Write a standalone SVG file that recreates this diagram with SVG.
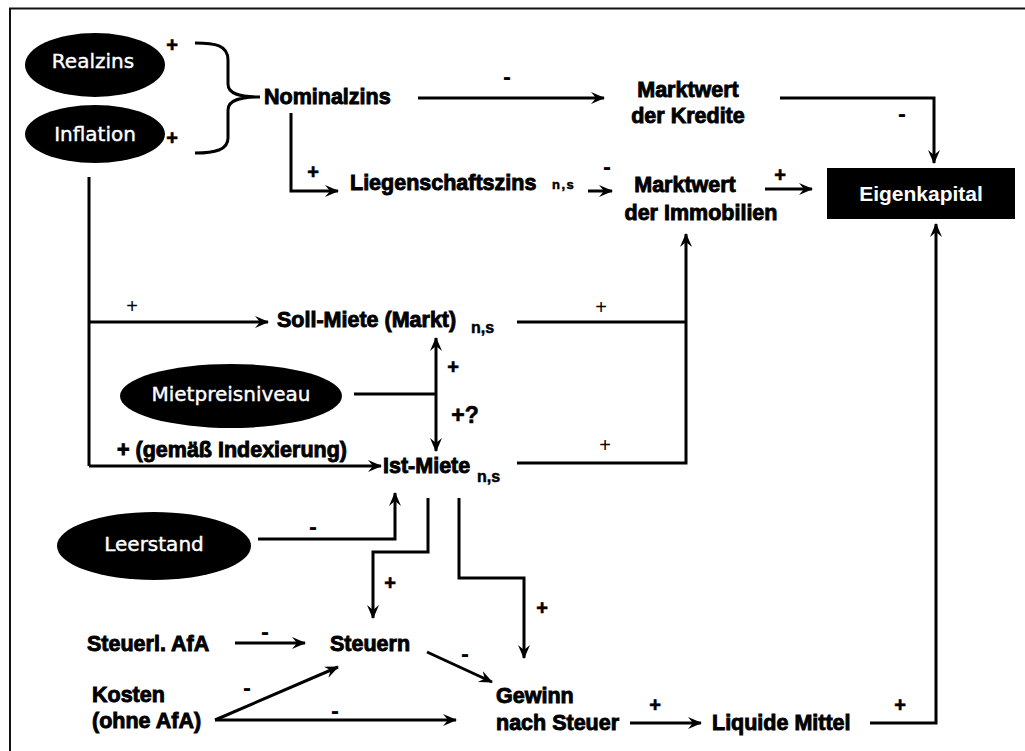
<svg xmlns="http://www.w3.org/2000/svg" width="1025" height="751" viewBox="0 0 1025 751">
<defs>
<marker id="ah" markerUnits="userSpaceOnUse" markerWidth="16" markerHeight="14" viewBox="0 0 16 14" refX="13" refY="7" orient="auto">
<path d="M0,1 L14,7 L0,13 L5,7 z" fill="#000"/>
</marker>
<style>
.b{font-family:"Liberation Sans",Arial,sans-serif;font-weight:bold;font-size:21.5px;fill:#000;stroke:#000;stroke-width:0.9px}
.sub{font-family:"Liberation Sans",Arial,sans-serif;font-weight:bold;font-size:16px;fill:#000;stroke:#000;stroke-width:0.5px}
.e{font-family:"DejaVu Sans",Verdana,sans-serif;font-size:20px;fill:#fff;stroke:#fff;stroke-width:0.4px;text-anchor:middle}
.lb{font-family:"Liberation Sans",Arial,sans-serif;font-weight:bold;font-size:20px;fill:#000;stroke:#000;stroke-width:0.6px;text-anchor:middle}
.lm{font-family:"Liberation Sans",Arial,sans-serif;font-weight:bold;font-size:24px;fill:#000;text-anchor:middle}
.lt{font-family:"Liberation Sans",Arial,sans-serif;font-size:20px;fill:#000;text-anchor:middle}
.c{fill:none;stroke:#000;stroke-width:3}
.a{marker-end:url(#ah)}
</style>
</defs>
<rect width="1025" height="751" fill="#fff"/>
<path d="M10,751 V8.5 H1025" fill="none" stroke="#111" stroke-width="2"/>

<g id="connectors">
<path class="c" d="M195,43 C215,43 228,45 228,60 L228,84 C228,94 240,97 260,97 C240,97 228,100 228,110 L228,138 C228,150 215,153 195,153"/>
<path class="c a" d="M418,98 H604"/>
<path class="c a" d="M780,98 H934 V163"/>
<path class="c a" d="M291,113 V191 H338"/>
<path class="c a" d="M588,191 H612"/>
<path class="c a" d="M765,189 H812"/>
<path class="c" d="M89,177 V466"/>
<path class="c a" d="M89,322 H268"/>
<path class="c a" d="M89,466 H381"/>
<path class="c a" d="M517,322 H686 V463 H517 M686,322 V234"/>
<path class="c" d="M354,394 H436"/>
<path class="c a" d="M436,394 V338"/>
<path class="c a" d="M436,394 V451"/>
<path class="c a" d="M258,539 H395 V493"/>
<path class="c a" d="M428,498 V552 H373 V618"/>
<path class="c a" d="M459,498 V578 H524 V658"/>
<path class="c a" d="M235,643 H305"/>
<path class="c a" d="M427,652 L492,682"/>
<path class="c a" d="M215,720 L338,667"/>
<path class="c a" d="M215,720 H456"/>
<path class="c a" d="M630,723 H701"/>
<path class="c a" d="M870,723 H936 V224"/>
</g>

<g id="labels">
<text class="lb" x="172" y="52">+</text>
<text class="lb" x="172" y="145">+</text>
<text class="lm" x="507" y="85">-</text>
<text class="lm" x="902" y="122">-</text>
<text class="lb" x="313" y="179">+</text>
<text class="lm" x="607" y="175">-</text>
<text class="lb" x="780" y="182">+</text>
<text class="lt" x="132" y="313">+</text>
<text class="lt" x="601" y="314">+</text>
<text class="lt" x="605" y="452">+</text>
<text class="lb" x="453" y="374">+</text>
<text class="lb" x="465" y="423" style="font-size:23px">+?</text>
<text class="lm" x="313" y="535">-</text>
<text class="lb" x="390" y="590">+</text>
<text class="lb" x="542" y="615">+</text>
<text class="lm" x="265" y="640">-</text>
<text class="lm" x="465" y="662">-</text>
<text class="lm" x="247" y="696">-</text>
<text class="lm" x="335" y="719">-</text>
<text class="lb" x="655" y="712">+</text>
<text class="lb" x="900" y="712">+</text>
</g>

<g id="realzins">
<ellipse cx="95" cy="65" rx="70" ry="32" fill="#000"/>
<text class="e" x="93" y="68">Realzins</text>
</g>
<g id="inflation">
<ellipse cx="95" cy="134" rx="70" ry="29" fill="#000"/>
<text class="e" x="95" y="141">Inflation</text>
</g>
<g id="nominalzins">
<text class="b" x="264" y="104">Nominalzins</text>
</g>
<g id="marktwert-kredite">
<text class="b" x="688" y="97" text-anchor="middle">Marktwert</text>
<text class="b" x="688" y="123" text-anchor="middle">der Kredite</text>
</g>
<g id="liegenschaftszins">
<text class="b" x="350" y="190">Liegenschaftszins</text>
<text class="sub" x="552" y="189" style="font-size:13px;letter-spacing:1.5px">n,s</text>
</g>
<g id="marktwert-immobilien">
<text class="b" x="685" y="192" text-anchor="middle">Marktwert</text>
<text class="b" x="701" y="220" text-anchor="middle">der Immobilien</text>
</g>
<g id="eigenkapital">
<rect x="827" y="168" width="188" height="51" fill="#000"/>
<text x="921" y="201" text-anchor="middle" style="font-family:'Liberation Sans',Arial,sans-serif;font-weight:bold;font-size:21px;fill:#fff">Eigenkapital</text>
</g>
<g id="soll-miete">
<text class="b" x="277" y="327">Soll-Miete (Markt)</text>
<text class="sub" x="471" y="333">n,s</text>
</g>
<g id="mietpreisniveau">
<ellipse cx="231" cy="396" rx="111" ry="32" fill="#000"/>
<text class="e" x="231" y="401">Mietpreisniveau</text>
</g>
<g id="indexierung">
<text class="b" x="117" y="457">+ (gemäß Indexierung)</text>
</g>
<g id="ist-miete">
<text class="b" x="383" y="473">Ist-Miete</text>
<text class="sub" x="477" y="482">n,s</text>
</g>
<g id="leerstand">
<ellipse cx="154" cy="546" rx="97" ry="34" fill="#000"/>
<text class="e" x="154" y="551">Leerstand</text>
</g>
<g id="steuerl-afa">
<text class="b" x="87" y="651">Steuerl. AfA</text>
</g>
<g id="steuern">
<text class="b" x="330" y="651">Steuern</text>
</g>
<g id="kosten">
<text class="b" x="92" y="702">Kosten</text>
<text class="b" x="92" y="728">(ohne AfA)</text>
</g>
<g id="gewinn">
<text class="b" x="496" y="703">Gewinn</text>
<text class="b" x="496" y="730">nach Steuer</text>
</g>
<g id="liquide-mittel">
<text class="b" x="712" y="730">Liquide Mittel</text>
</g>
</svg>
